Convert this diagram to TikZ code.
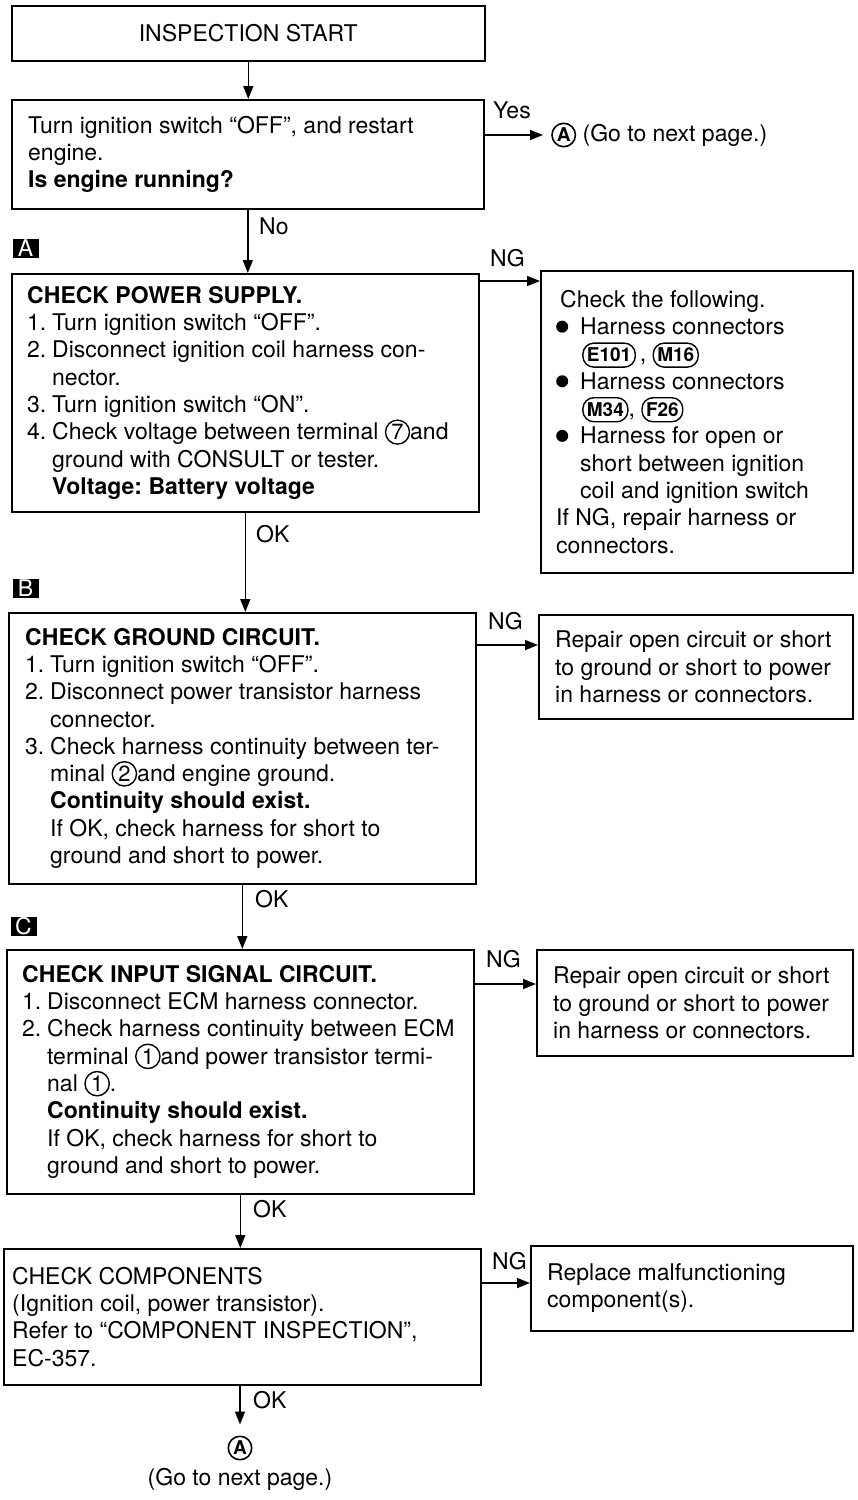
\documentclass[tikz,border=0pt]{standalone}
\usepackage{fontspec}
\setmainfont{TeX Gyre Heros}
\usetikzlibrary{arrows.meta,positioning}
\frenchspacing
\newcommand\cnum[1]{\tikz[baseline=(cn.base)]\node[circle,draw,line width=1.4pt,inner sep=1.6pt,font=\fontsize{22}{22}\selectfont] (cn) {#1};}
\newcommand\conn[1]{\tikz[baseline=(cc.base)]\node[draw,rounded corners=11pt,line width=1.4pt,inner xsep=4pt,inner ysep=5pt,font=\fontsize{19}{19}\selectfont\bfseries] (cc) {#1};}
\newcommand\circA{\tikz[baseline=(ca.base)]\node[circle,draw,line width=1.6pt,inner sep=1.4pt,font=\fontsize{19}{19}\selectfont\bfseries] (ca) {A};}
\newcommand\bul{\makebox[24pt][l]{\raisebox{2pt}{\tikz\fill (0pt,0pt) circle (6pt);}}}
\newcommand\nm[1]{\makebox[25pt][l]{#1}}
\newcommand\ind{\hspace*{25pt}}
\begin{document}
\begin{tikzpicture}[x=1pt,y=-1pt,
  box/.style={draw,line width=1.6pt,rectangle,inner sep=0pt,anchor=north west,font=\fontsize{23}{27.3}\selectfont},
  txt/.style={inner sep=0pt,align=left,font=\fontsize{23}{27.3}\selectfont},
  lab/.style={inner sep=0pt,font=\fontsize{23}{27.3}\selectfont,anchor=base west},
  arr/.style={line width=1.5pt,-{Triangle[length=13pt,width=10pt]}},
  tag/.style={fill=black,text=white,minimum width=26pt,minimum height=19pt,inner sep=0pt,font=\fontsize{23}{23}\selectfont}]
\useasboundingbox (0,0) rectangle (858,1500);

% main column boxes
\node[box,minimum width=473pt,minimum height=55pt] (start) at (11,5) {INSPECTION START};
\node[box,minimum width=472pt,minimum height=109pt] (q1) at (11,99) {};
\node[txt,right=17pt of q1.west] (q1t) {Turn ignition switch “OFF”, and restart\\engine.\\\textbf{Is engine running?}};

\node[box,minimum width=467pt,minimum height=238pt] (pA) at (11,273) {};
\node[txt,right=16pt of pA.west] (pAt) {\textbf{CHECK POWER SUPPLY.}\\
\nm{1.}Turn ignition switch “OFF”.\\
\nm{2.}Disconnect ignition coil harness con-\\
\ind nector.\\
\nm{3.}Turn ignition switch “ON”.\\
\nm{4.}Check voltage between terminal \cnum{7}and\\
\ind ground with CONSULT or tester.\\
\ind\textbf{Voltage: Battery voltage}};

\node[box,minimum width=467pt,minimum height=271pt] (pB) at (8,612) {};
\node[txt,right=17pt of pB.west] (pBt) {\textbf{CHECK GROUND CIRCUIT.}\\
\nm{1.}Turn ignition switch “OFF”.\\
\nm{2.}Disconnect power transistor harness\\
\ind connector.\\
\nm{3.}Check harness continuity between ter-\\
\ind minal \cnum{2}and engine ground.\\
\ind\textbf{Continuity should exist.}\\
\ind If OK, check harness for short to\\
\ind ground and short to power.};

\node[box,minimum width=467pt,minimum height=244pt] (pC) at (6,949) {};
\node[txt,right=16pt of pC.west] (pCt) {\textbf{CHECK INPUT SIGNAL CIRCUIT.}\\
\nm{1.}Disconnect ECM harness connector.\\
\nm{2.}Check harness continuity between ECM\\
\ind terminal \cnum{1}and power transistor termi-\\
\ind nal \cnum{1}.\\
\ind\textbf{Continuity should exist.}\\
\ind If OK, check harness for short to\\
\ind ground and short to power.};

\node[box,minimum width=477pt,minimum height=136pt] (pD) at (3,1248) {};
\node[txt,right=9pt of pD.west] (pDt) {CHECK COMPONENTS\\
(Ignition coil, power transistor).\\
Refer to “COMPONENT INSPECTION”,\\
EC-357.};

% right column boxes
\node[box,minimum width=312pt,minimum height=302pt] (rA) at (540,270) {};
\node[txt,right=16pt of rA.west] (rAt) {\hspace*{4pt}Check the following.\\
\bul Harness connectors\\
\hspace*{26pt}\conn{E101}\,,\ \conn{M16}\\
\bul Harness connectors\\
\hspace*{26pt}\conn{M34}, \conn{F26}\\
\bul Harness for open or\\
\hspace*{24pt}short between ignition\\
\hspace*{24pt}coil and ignition switch\\
If NG, repair harness or\\
connectors.};

\node[box,minimum width=314pt,minimum height=104pt] (rB) at (538,614) {};
\node[txt,right=17pt of rB.west] (rBt) {Repair open circuit or short\\to ground or short to power\\in harness or connectors.};

\node[box,minimum width=316pt,minimum height=106pt] (rC) at (536,949) {};
\node[txt,right=17pt of rC.west] (rCt) {Repair open circuit or short\\to ground or short to power\\in harness or connectors.};

\node[box,minimum width=322pt,minimum height=85pt] (rD) at (530,1245) {};
\node[txt,right=17pt of rD.west] (rDt) {Replace malfunctioning\\component(s).};

% section tags
\node[tag] (tagA) at (25.5,248.5) {A};
\node[tag] (tagB) at (25.5,588) {B};
\node[tag] (tagC) at (23.5,926) {C};

% go-to nodes
\node[inner sep=0pt,anchor=west,font=\fontsize{23}{27.3}\selectfont] (yesA) at (551,135) {\circA\ (Go to next page.)};
\node[circle,draw,line width=1.6pt,inner sep=1.4pt,font=\fontsize{19}{19}\selectfont\bfseries] (endA) at (240,1448) {A};
\node[inner sep=0pt,anchor=base,font=\fontsize{23}{27.3}\selectfont] (endT) at (240,1485) {(Go to next page.)};

% vertical connectors
\draw[arr] (start.south) -- (start.south |- q1.north);
\draw[arr] (q1.south) -- (q1.south |- pA.north);
\draw[arr] (pA.south) -- (pA.south |- pB.north);
\draw[arr] (pB.south) -- (pB.south |- pC.north);
\draw[arr] (pC.south) -- (pC.south |- pD.north);
\draw[arr] (pD.south -| endA.north) -- ([yshift=11pt]endA.north);

% horizontal connectors
\draw[arr] (q1.east |- yesA.west) -- ([xshift=-8pt]yesA.west);
\coordinate (ngA) at ([yshift=-8pt]pA.north east);
\coordinate (ngB) at ([yshift=-33pt]pB.north east);
\coordinate (ngC) at ([yshift=-35pt]pC.north east);
\coordinate (ngD) at ([yshift=-35pt]pD.north east);
\draw[arr] (ngA) -- (ngA -| rA.west);
\draw[arr] (ngB) -- (ngB -| rB.west);
\draw[arr] (ngC) -- (ngC -| rC.west);
\draw[arr] (ngD) -- (ngD -| rD.west);

% connector labels
\node[lab] (yesL) at (493,118) {Yes};
\node[lab] (noL) at (259,234) {No};
\node[lab] (ngAl) at (490,266) {NG};
\node[lab] (ngBl) at (488,629) {NG};
\node[lab] (ngCl) at (486,967) {NG};
\node[lab] (ngDl) at (492,1269) {NG};
\node[lab] (okA) at (256,542) {OK};
\node[lab] (okB) at (255,907) {OK};
\node[lab] (okC) at (253,1217) {OK};
\node[lab] (okD) at (253,1408) {OK};
\end{tikzpicture}
\end{document}
